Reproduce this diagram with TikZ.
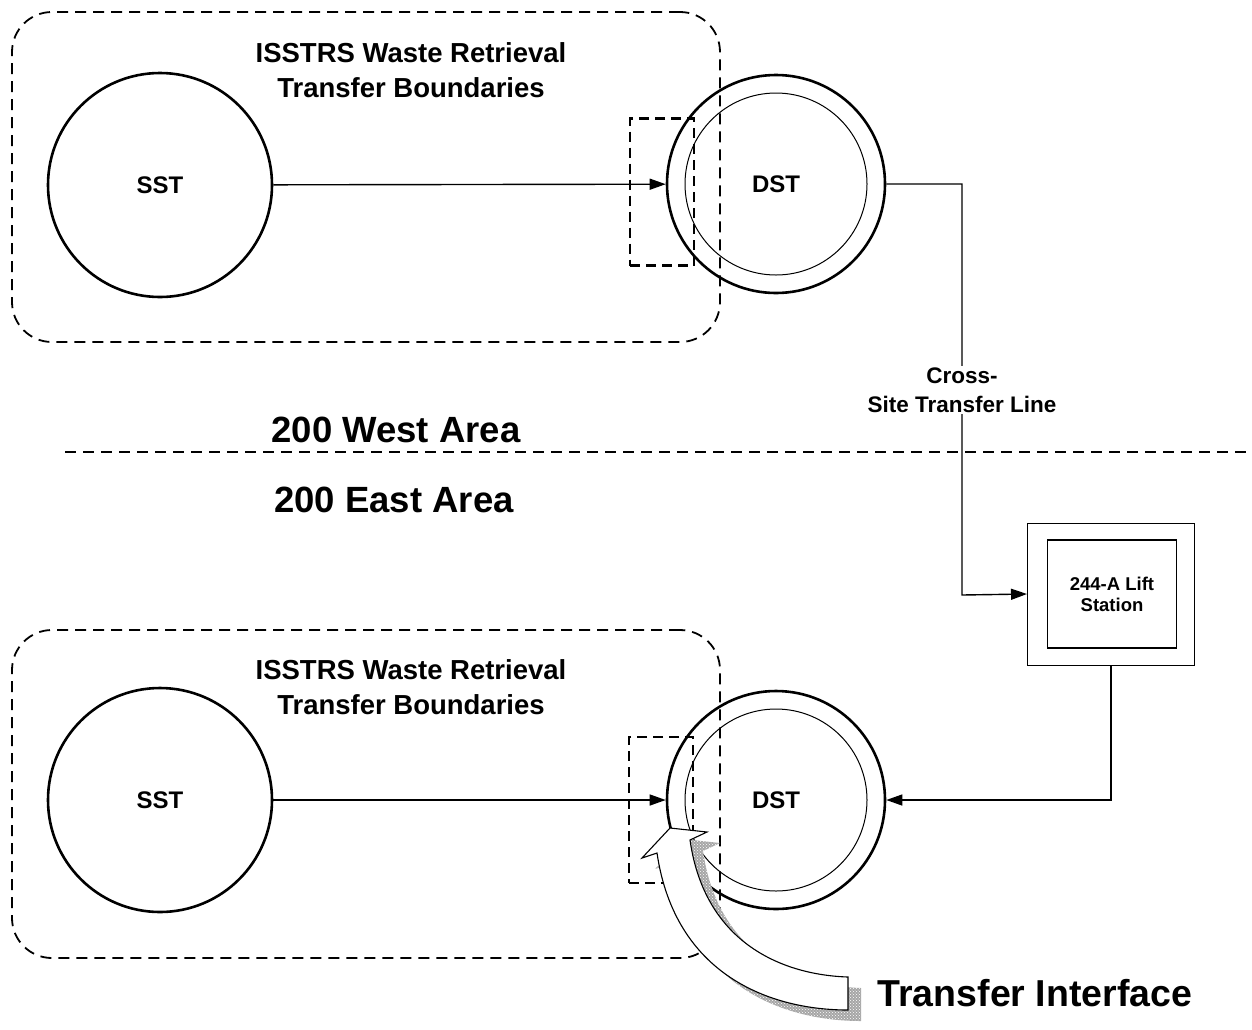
\documentclass[tikz,border=0pt]{standalone}
\usepackage{fontspec}
\setmainfont{Liberation Sans}
\usetikzlibrary{arrows.meta,patterns,shapes.geometric}
\begin{document}
\begin{tikzpicture}[x=1pt,y=-1pt,
  tank/.style={circle,draw,line width=2.6pt,minimum size=#1,inner sep=0pt,font=\fontsize{24}{26}\selectfont\bfseries},
  inner/.style={circle,draw,line width=1pt,minimum size=#1,inner sep=0pt},
  bound/.style={draw,dashed,line width=1.8pt,dash pattern=on 11pt off 7pt,rounded corners=40pt,minimum width=708pt,minimum height=#1,inner sep=0pt},
  iface/.style={draw,dashed,line width=2.2pt,dash pattern=on 10pt off 6pt,minimum width=64pt,minimum height=#1,inner sep=0pt},
  flow/.style={line width=1.4pt,-{Triangle[length=16pt,width=11pt]}},
  title/.style={align=center,font=\fontsize{27.5}{35}\selectfont\bfseries},
  area/.style={font=\fontsize{36.5}{40}\selectfont\bfseries}]
\useasboundingbox (0,0) rectangle (1252,1029);

% boundary boxes
\node[bound=330pt] (box1) at (366,177) {};
\node[bound=328pt] (box2) at (366,794) {};
\node[title] (t1) at (411,70) {ISSTRS Waste Retrieval\\Transfer Boundaries};
\node[title] (t2) at (411,687) {ISSTRS Waste Retrieval\\Transfer Boundaries};

% tanks top
\node[tank=224pt] (sst1) at (160,185) {SST};
\node[inner=182pt] (dsti1) at (776,184) {};
\node[tank=218pt] (dst1) at (776,184) {DST};
\node[iface=147pt] (if1) at (662,192) {};

% tanks bottom
\node[tank=224pt] (sst2) at (160,800) {SST};
\node[inner=182pt] (dsti2) at (776,800) {};
\node[tank=218pt] (dst2) at (776,800) {DST};
\node[iface=146pt] (if2) at (661,810) {};

% area line
\coordinate (al) at (65,452);
\coordinate (ar) at (1252,452);
\draw[line width=1.8pt,dash pattern=on 11pt off 7pt] (al) -- (ar);
\node[area] (west) at (396,430) {200 West Area};
\node[area] (east) at (394,500) {200 East Area};

% lift station
\node[draw,line width=1pt,minimum width=167pt,minimum height=142pt,inner sep=0pt] (lift) at (1111,594) {};
\node[draw,line width=1.4pt,minimum width=129pt,minimum height=108pt,inner sep=0pt,align=center,
      font=\fontsize{18.5}{21}\selectfont\bfseries] (lifti) at (1112,594) {244-A Lift\\Station};

% connectors
\draw[flow] (sst1) -- (dst1);
\draw[flow] (sst2) -- (dst2);
\coordinate (c1) at (962,184);
\coordinate (c2) at (962,595);
\draw[flow] (dst1.east) -- (c1) -- (c2) -- (lift.west);
\node[fill=white,align=center,inner sep=2pt,font=\fontsize{22.5}{29}\selectfont\bfseries] (xl) at (962,390) {Cross-\\Site Transfer Line};
\draw[flow] (lift.south) |- (dst2.east);

% transfer interface arrow
\begin{scope}[shift={(13,11)}]
\fill[black!35]
  (657,853) .. controls (675,975) and (770,1010) .. (848,1010) -- (848,977)
  .. controls (785,975) and (705,945) .. (690,840) -- (707,832) -- (670,828) -- (642,858) -- cycle;
\fill[pattern=crosshatch dots,pattern color=white]
  (657,853) .. controls (675,975) and (770,1010) .. (848,1010) -- (848,977)
  .. controls (785,975) and (705,945) .. (690,840) -- (707,832) -- (670,828) -- (642,858) -- cycle;
\end{scope}
\draw[fill=white,line width=1.1pt]
  (657,853) .. controls (675,975) and (770,1010) .. (848,1010) -- (848,977)
  .. controls (785,975) and (705,945) .. (690,840) -- (707,832) -- (670,828) -- (642,858) -- cycle;
\node[anchor=west,font=\fontsize{37.5}{40}\selectfont\bfseries] (ti) at (874,993) {Transfer Interface};
\end{tikzpicture}
\end{document}
